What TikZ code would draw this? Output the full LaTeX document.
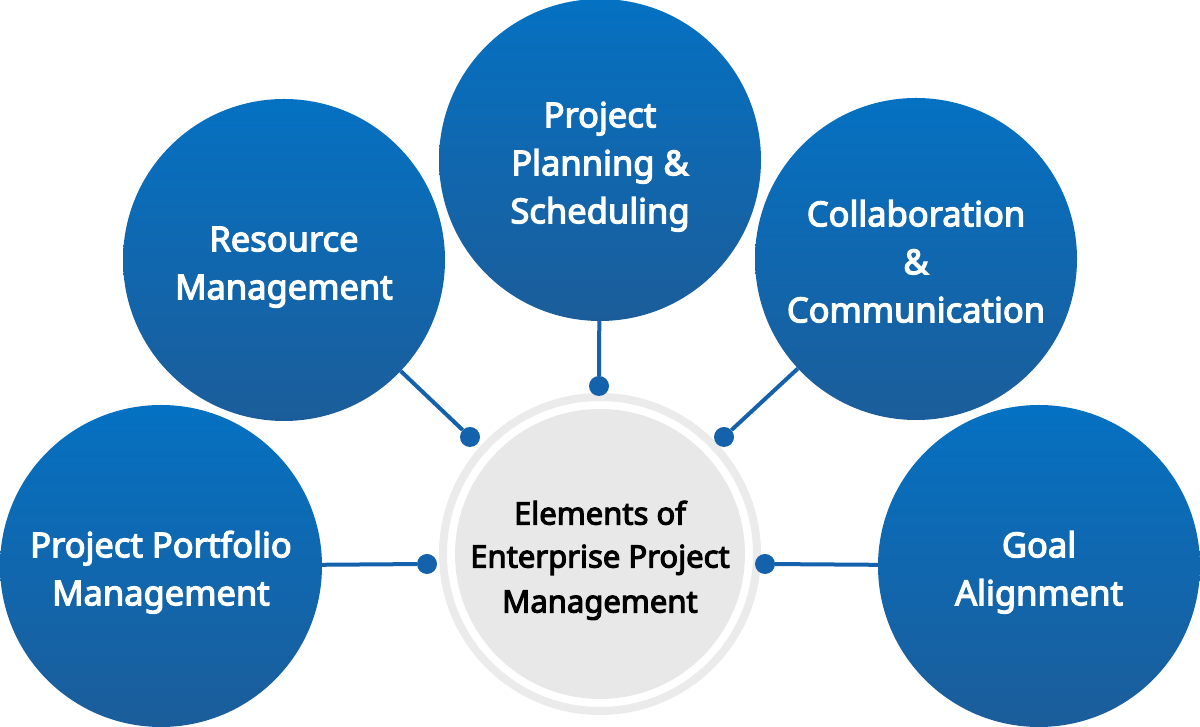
\documentclass[tikz,border=0pt]{standalone}
\usepackage{fontspec}
\setmainfont{Noto Sans}
\newfontfamily\elfont{Noto Sans}[FakeBold=3.5]
\definecolor{epmtop}{RGB}{5,113,194}
\definecolor{epmbottom}{RGB}{27,93,154}
\definecolor{epmline}{RGB}{20,98,172}
\definecolor{epmgray}{RGB}{232,232,232}
\definecolor{epmring}{RGB}{235,235,235}
% even line boxes, so every label sits alike in its circle
\newcommand{\elstrut}{\rule[-8.7pt]{0pt}{48pt}}
\newcommand{\hubstrut}{\rule[-6.5pt]{0pt}{43pt}}
\tikzset{element/.style={circle, minimum size=322pt, inner sep=0pt,
                         top color=epmtop, bottom color=epmbottom,
                         text=white, align=center,
                         font=\elfont\fontsize{34.5}{48}\selectfont},
         hub/.style={circle, minimum size=282pt, inner sep=0pt,
                     fill=epmgray, align=center,
                     font=\elfont\fontsize{31}{43}\selectfont},
         joint/.style={circle, minimum size=20pt, inner sep=0pt, fill=epmline},
         link/.style={line width=4pt, draw=epmline},
         }

\begin{document}
\begin{tikzpicture}[x=1pt, y=1pt]
    \useasboundingbox (0,0) rectangle (1200,727);

    % centre
    \node[hub] (hub) at (600,173)
        {\hubstrut Elements of\\\hubstrut Enterprise Project\\\hubstrut Management};
    \draw[epmring, line width=8pt] (hub.center) circle (157);

    % elements
    \node[element] (portfolio) at (161,161)
        {\elstrut Project Portfolio\\\elstrut Management};
    \node[element] (resource)  at (284,467)
        {\elstrut Resource\\\elstrut Management};
    \node[element] (planning)  at (600,567)
        {\elstrut Project\\\elstrut Planning \&\\\elstrut Scheduling};
    \node[element] (collab)    at (916,468)
        {\elstrut Collaboration\\\elstrut \&\\\elstrut Communication};
    \node[element] (goal)      at (1039,161)
        {\elstrut Goal\\\elstrut Alignment};

    % joints round the centre
    \node[joint] (j1) at (427,163) {};
    \node[joint] (j2) at (470,290) {};
    \node[joint] (j3) at (599,341) {};
    \node[joint] (j4) at (724,290) {};
    \node[joint] (j5) at (765,163) {};

    \draw[link] (portfolio) -- (j1)
                (resource)  -- (j2)
                (planning)  -- (j3)
                (collab)    -- (j4)
                (goal)      -- (j5);
\end{tikzpicture}
\end{document}
